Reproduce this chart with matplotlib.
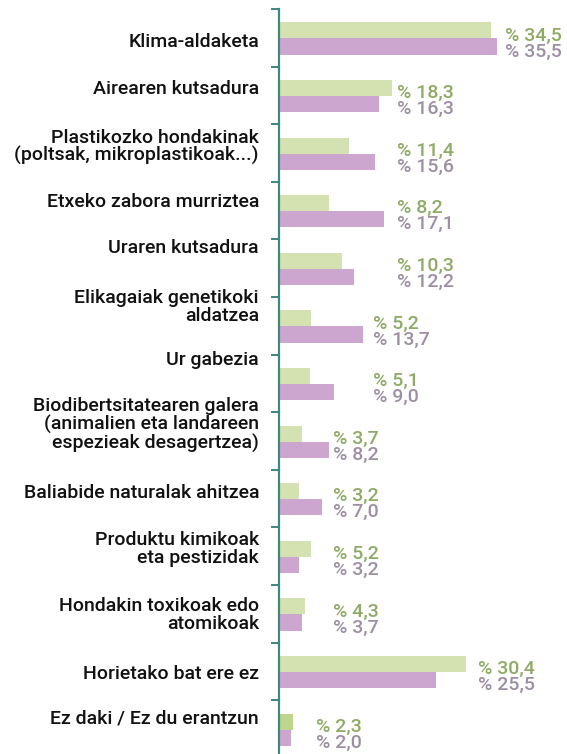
import matplotlib
matplotlib.use("Agg")
import matplotlib.pyplot as plt
from matplotlib.transforms import blended_transform_factory

categories = [
    "Klima-aldaketa",
    "Airearen kutsadura",
    "Plastikozko hondakinak\n(poltsak, mikroplastikoak...)",
    "Etxeko zabora murriztea",
    "Uraren kutsadura",
    "Elikagaiak genetikoki\naldatzea",
    "Ur gabezia",
    "Biodibertsitatearen galera\n(animalien eta landareen\nespezieak desagertzea)",
    "Baliabide naturalak ahitzea",
    "Produktu kimikoak\neta pestizidak",
    "Hondakin toxikoak edo\natomikoak",
    "Horietako bat ere ez",
    "Ez daki / Ez du erantzun",
]
green_values = [34.5, 18.3, 11.4, 8.2, 10.3, 5.2, 5.1, 3.7, 3.2, 5.2, 4.3, 30.4, 2.3]
purple_values = [35.5, 16.3, 15.6, 17.1, 12.2, 13.7, 9.0, 8.2, 7.0, 3.2, 3.7, 25.5, 2.0]

# layout (positions of texts, in data units)
label_y = [0.573, 1.389, 2.396, 3.351, 4.149, 5.174, 6.094, 7.222, 8.403, 9.375, 10.521, 11.545, 12.326]
value_x = [36.75, 19.19, 19.19, 19.19, 19.19, 15.28, 15.28, 8.78, 8.78, 8.78, 8.78, 32.36, 6.02]

GREEN = "#d4e2b1"
GREEN_DARK = "#bdd68b"
PURPLE = "#cca6ce"
GREEN_TXT = "#8eab65"
PURPLE_TXT = "#9d8fa3"
TEAL = "#3b8a7d"

W, H = 567, 754
fig = plt.figure(figsize=(W / 100, H / 100), dpi=100)
ax = fig.add_axes([279 / W, 0, (W - 279) / W, (H - 9) / H])

n = len(categories)
idx = list(range(n))
bar_h = 0.278
green_pos = [i + 0.373 for i in idx]
purple_pos = [i + 0.651 for i in idx]
green_colors = [GREEN] * (n - 1) + [GREEN_DARK]

ax.barh(green_pos, green_values, height=bar_h, color=green_colors, linewidth=0, zorder=2)
ax.barh(purple_pos, purple_values, height=bar_h, color=PURPLE, linewidth=0, zorder=2)

ax.set_xlim(0, (W - 279) / 6.15)
ax.set_ylim((H - 9) / 57.6, 0)

for s in ["top", "right", "bottom"]:
    ax.spines[s].set_visible(False)
ax.spines["left"].set_color(TEAL)
ax.spines["left"].set_linewidth(1.6)
ax.spines["left"].set_zorder(3)
ax.set_xticks([])
ax.set_yticks(range(n))
ax.set_yticklabels([])
ax.tick_params(axis="y", direction="out", length=5.5, width=1.4, color=TEAL)

fam = ["Roboto", "DejaVu Sans"]
trans = blended_transform_factory(fig.transFigure, ax.transData)
for lab, y in zip(categories, label_y):
    ax.text(259 / W, y, lab, transform=trans, ha="right", va="center",
            fontsize=14, family=fam, fontweight="medium", color="#111111",
            linespacing=0.98, clip_on=False)

def fmt(v):
    return "% " + f"{v:.1f}".replace(".", ",")

for i in idx:
    ax.text(value_x[i], i + 0.547, fmt(green_values[i]), ha="left", va="baseline",
            fontsize=14, family=fam, fontweight="medium", color=GREEN_TXT, clip_on=False, zorder=4)
    ax.text(value_x[i], i + 0.825, fmt(purple_values[i]), ha="left", va="baseline",
            fontsize=14, family=fam, fontweight="medium", color=PURPLE_TXT, clip_on=False, zorder=4)

fig.savefig("out.png", dpi=100)
